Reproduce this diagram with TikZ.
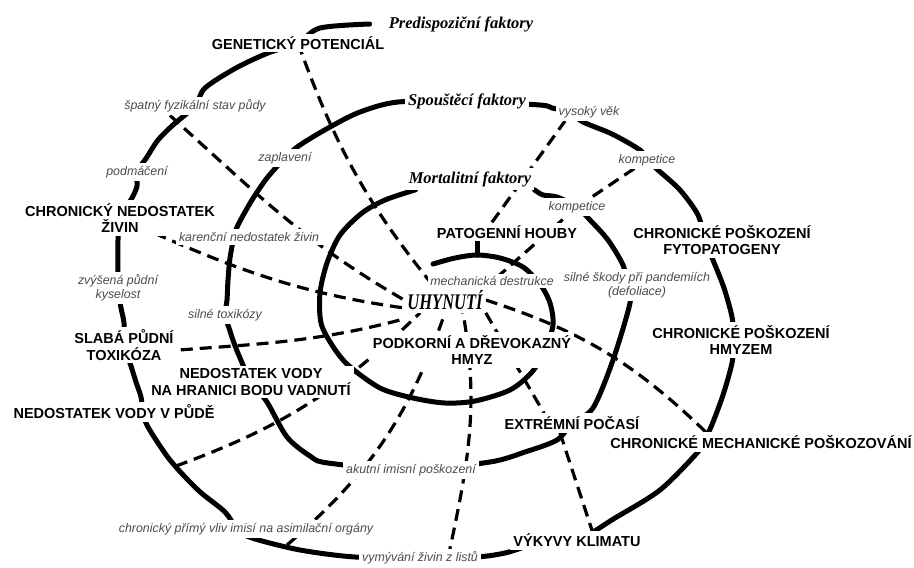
\documentclass[tikz,border=0pt]{standalone}
\usepackage{fontspec}
\setmainfont{Liberation Sans}
\newfontfamily\handfont{Liberation Serif}
\usetikzlibrary{backgrounds,calc}
\tikzset{
  factor/.style = {font=\bfseries\fontsize{14.5}{16.5}\selectfont, align=center,
                   fill=white, inner sep=3pt},
  cause/.style  = {font=\itshape\fontsize{12.4}{14}\selectfont, text=black!70,
                   align=center, fill=white, inner sep=3pt},
  phase/.style  = {font=\handfont\bfseries\itshape\fontsize{16.5}{18}\selectfont,
                   fill=white, inner sep=3pt},
  ring/.style   = {line width=5pt, line cap=round, line join=round},
  link/.style   = {line width=3.2pt, dash pattern=on 12pt off 7pt},
}

\begin{document}
\begin{tikzpicture}[x=1pt,y=-1pt]
  \useasboundingbox (0,0) rectangle (914,568);
  % phase titles
  \node[phase] (pre)  at (461,24)  {Predispoziční faktory};
  \node[phase] (spou) at (467,101) {Spouštěcí faktory};
  \node[phase] (mort) at (470,179) {Mortalitní faktory};
  % outer ring labels
  \node[factor] (gen)    at (298,43)  {GENETICKÝ POTENCIÁL};
  \node[cause]  (spat)   at (195,106) {špatný fyzikální stav půdy};
  \node[cause]  (podm)   at (137,172) {podmáčení};
  \node[factor] (chron)  at (120,218) {CHRONICKÝ NEDOSTATEK\\ŽIVIN};
  \node[cause]  (kys)    at (118,288) {zvýšená půdní\\kyselost};
  \node[factor] (slab)   at (124,345) {SLABÁ PŮDNÍ\\TOXIKÓZA};
  \node[factor] (vodap)  at (114,412) {NEDOSTATEK VODY V PŮDĚ};
  \node[cause]  (chpv)   at (246,529) {chronický přímý vliv imisí na asimilační orgány};
  \node[cause]  (vym)    at (420,558) {vymývání živin z listů};
  \node[factor] (vyk)    at (577,540) {VÝKYVY KLIMATU};
  \node[factor] (cmp)    at (761,442) {CHRONICKÉ MECHANICKÉ POŠKOZOVÁNÍ};
  \node[factor] (hmyzem) at (741,340) {CHRONICKÉ POŠKOZENÍ\\HMYZEM};
  \node[factor] (fyto)   at (722,240) {CHRONICKÉ POŠKOZENÍ\\FYTOPATOGENY};
  \node[cause]  (komp1)  at (647,160) {kompetice};
  \node[cause]  (vek)    at (589,112) {vysoký věk};
  % middle ring labels
  \node[cause]  (zapl)   at (285,158) {zaplavení};
  \node[cause]  (karen)  at (249,237) {karenční nedostatek živin};
  \node[cause]  (tox)    at (225,315) {silné toxikózy};
  \node[factor] (vadn)   at (251,382) {NEDOSTATEK VODY\\NA HRANICI BODU VADNUTÍ};
  \node[cause]  (akut)   at (411,470) {akutní imisní poškození};
  \node[factor] (extr)   at (572,423) {EXTRÉMNÍ POČASÍ};
  \node[cause]  (skody)  at (637,285) {silné škody při pandemiích\\(defoliace)};
  \node[cause]  (komp2)  at (577,207) {kompetice};
  % inner ring labels
  \node[factor] (pato)   at (507,232) {PATOGENNÍ HOUBY};
  \node[cause, inner sep=2pt] (mech) at (492,281) {mechanická destrukce};
  \node[factor] (podk)   at (472,350) {PODKORNÍ A DŘEVOKAZNÝ\\HMYZ};
  \node[phase]  (uhyn)   at (445,300) {\scalebox{1}[1.35]{UHYNUTÍ}};

  \coordinate (r1) at (176,466);
  \coordinate (r2) at (287,545);
  \coordinate (arctop) at (477,255);

  \begin{scope}[on background layer]
    \fill[white] (0,0) rectangle (914,568);
    % spiral: predisposing ring
    \draw[ring] plot[smooth] coordinates {([xshift=-16pt]pre.west) (320,28) (gen.center)
      (268,53) (236,68) (205,88) (spat.center) (173,125) (158,140) (147,157) (podm.center)
      (137,186) (132,198) (chron.center) (118,240) (118,268) (kys.center) (121,308)
      (124,323) (slab.center) (131,366) (136,382) (141,397) ([xshift=29pt]vodap.center)
      (148,427) (170,460) (198,490) (225,512) ([xshift=-9pt]chpv.center) (252,538)
      (300,550) (355,557) (vym.center) (476,557) (505,553) (533,545) (vyk.center)
      (615,518) (660,490) (697,453) ([xshift=-58pt]cmp.center) (711,427) (723,395)
      (732,363) ([xshift=-7pt]hmyzem.center) (732,317) (724,288) (713,260)
      ([xshift=-17pt]fyto.center) (698,215) (680,190) (658,170) (komp1.center) (640,150)
      (612,134) (583,122) ([xshift=-20pt]vek.center) (552,108) (540,105) (spou.center)};
    % spiral: triggering ring
    \draw[ring] plot[smooth] coordinates {(spou.center) (398,102) (360,112) (330,127)
      (300,145) (zapl.center) (267,178) (252,200) (238,225) ([xshift=-15pt]karen.center)
      (230,258) (228,280) (227,300) (tox.center) (229,328) (234,343) (240,358)
      (vadn.center) (267,402) (287,437) (310,456) (328,463) (akut.center) (490,462)
      (525,452) (557,440) (extr.center) (593,408) (613,360) (630,303)
      ([xshift=-9pt]skody.center) (623,265) (608,240) (590,220) (komp2.center) (557,197)
      (543,195) (mort.south east)};
    % spiral: mortality ring
    \draw[ring] plot[smooth] coordinates {([xshift=10pt]mort.south west) (385,200)
      (362,213) (340,235) (327,263) (320,293) (321,323) (332,345) (348,365) (380,388)
      (413,398) (445,403) (475,401) (510,390) (532,372) (545,350) (553,325) (550,303)
      (540,284) (523,267) (500,258) (arctop) (455,258) (433,264)};
    \draw[ring] ([xshift=-30pt]pato.south) -- (arctop);
    % dashed links
    \draw[link] (gen.center) to[bend right=10] (uhyn.center);
    \draw[link] ([xshift=-25pt]spat.south) to[out=-42,in=150] (uhyn.west);
    \draw[link] (chron.center) to[out=-24,in=172] ([yshift=-8pt]uhyn.west);
    \draw[link] ([yshift=-10pt]slab.center) to[out=6,in=195] ([yshift=-6pt]uhyn.south west);
    \draw[link] (r1) to[bend right=12] ([xshift=-25pt]uhyn.south);
    \draw[link] (r2) to[bend right=15] (uhyn.south);
    \draw[link] ([xshift=28pt]vym.center) to[out=78,in=-80] ([xshift=18pt]uhyn.south);
    \draw[link] (uhyn.east) to[bend left=13] ([xshift=-55pt]cmp.north);
    \draw[link] (uhyn.south east) -- ([xshift=-28pt]extr.north);
    \draw[link] ([xshift=-15pt]pato.north) -- ([xshift=-24pt]vek.south);
    \draw[link] (komp2.center) -- (uhyn.north east);
    \draw[link] (komp2.center) -- (komp1.center);
    \draw[link] ([xshift=-12pt]extr.south) -- ([xshift=15pt]vyk.north);
  \end{scope}
\end{tikzpicture}
\end{document}
